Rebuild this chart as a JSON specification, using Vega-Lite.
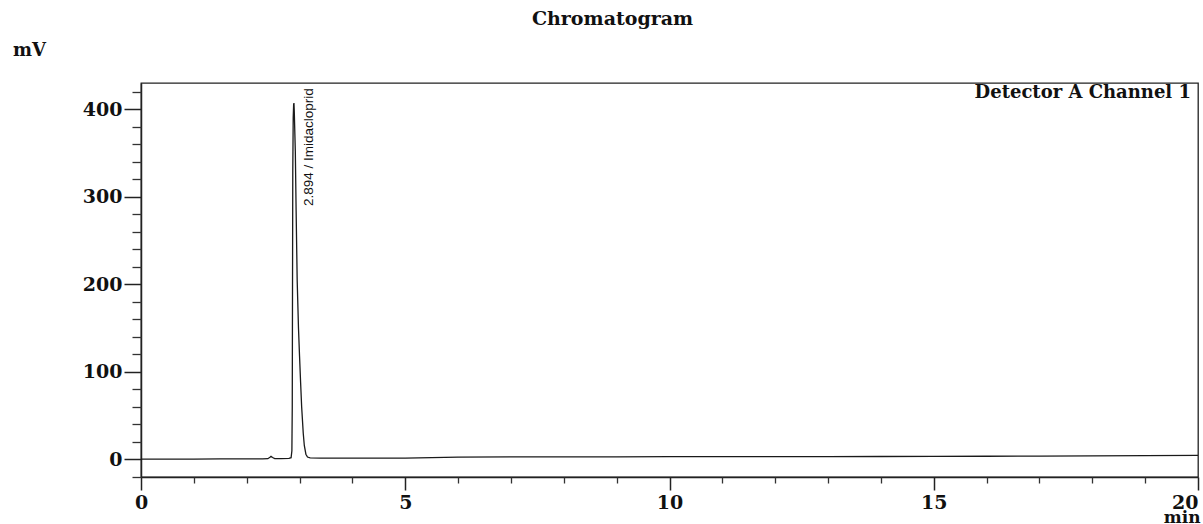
{
  "$schema": "https://vega.github.io/schema/vega-lite/v6.json",
  "width": 1057,
  "height": 394,
  "autosize": {"type": "none"},
  "padding": {"left": 141, "top": 83, "right": 5, "bottom": 47},
  "background": "white",
  "title": {
    "text": "Chromatogram",
    "font": "DejaVu Serif",
    "fontSize": 19,
    "fontWeight": "bold",
    "color": "#111111",
    "anchor": "middle",
    "dx": -57,
    "offset": 12
  },
  "datasets": {
    "trace": [
      {"t": 0, "mV": 0.5}, {"t": 0.5, "mV": 0.4}, {"t": 1, "mV": 0.5}, {"t": 1.5, "mV": 0.6},
      {"t": 2, "mV": 0.6}, {"t": 2.3, "mV": 0.7}, {"t": 2.4, "mV": 0.9}, {"t": 2.44, "mV": 2.5},
      {"t": 2.46, "mV": 3.5}, {"t": 2.49, "mV": 2.2}, {"t": 2.53, "mV": 1.0}, {"t": 2.65, "mV": 1.0},
      {"t": 2.8, "mV": 1.2}, {"t": 2.84, "mV": 2}, {"t": 2.855, "mV": 10}, {"t": 2.862, "mV": 60},
      {"t": 2.867, "mV": 200}, {"t": 2.872, "mV": 330}, {"t": 2.88, "mV": 390}, {"t": 2.888, "mV": 405},
      {"t": 2.894, "mV": 407}, {"t": 2.9, "mV": 398}, {"t": 2.92, "mV": 352}, {"t": 2.935, "mV": 285},
      {"t": 2.955, "mV": 205}, {"t": 2.98, "mV": 150}, {"t": 3.0, "mV": 118}, {"t": 3.02, "mV": 88},
      {"t": 3.04, "mV": 60}, {"t": 3.07, "mV": 30}, {"t": 3.09, "mV": 16}, {"t": 3.12, "mV": 6},
      {"t": 3.15, "mV": 2.8}, {"t": 3.2, "mV": 1.8}, {"t": 3.4, "mV": 1.5}, {"t": 4, "mV": 1.5},
      {"t": 5, "mV": 1.6}, {"t": 5.5, "mV": 2.2}, {"t": 6, "mV": 2.8}, {"t": 7, "mV": 3.0},
      {"t": 8, "mV": 2.9}, {"t": 9, "mV": 3.0}, {"t": 10, "mV": 3.2}, {"t": 11, "mV": 3.2},
      {"t": 12, "mV": 3.3}, {"t": 13, "mV": 3.3}, {"t": 14, "mV": 3.4}, {"t": 15, "mV": 3.5},
      {"t": 16, "mV": 3.7}, {"t": 17, "mV": 3.9}, {"t": 18, "mV": 4.2}, {"t": 19, "mV": 4.4},
      {"t": 20, "mV": 4.6}
    ]
  },
  "layer": [
    {
      "data": {"name": "trace"},
      "mark": {"type": "line", "color": "#1a1a1a", "strokeWidth": 1.3},
      "encoding": {
        "x": {
          "field": "t", "type": "quantitative",
          "scale": {"domain": [0, 20], "nice": false, "zero": false},
          "axis": {
            "orient": "bottom",
            "values": [0, 5, 10, 15, 20],
            "tickSize": 13,
            "tickWidth": 1.5,
            "tickColor": "#222222",
            "domainColor": "#222222",
            "domainWidth": 1.5,
            "labelPadding": 3,
            "labelFont": "DejaVu Serif",
            "labelFontSize": 19,
            "labelFontWeight": "bold",
            "labelColor": "#111111",
            "labelAlign": {"condition": {"test": "datum.value === 20", "value": "right"}, "value": "center"},
            "grid": false,
            "title": "min",
            "titleFont": "DejaVu Serif",
            "titleFontSize": 17,
            "titleFontWeight": "bold",
            "titleColor": "#111111",
            "titleX": 1059,
            "titleY": 45,
            "titleAlign": "right",
            "titleBaseline": "alphabetic"
          }
        },
        "y": {
          "field": "mV", "type": "quantitative",
          "scale": {"domain": [-20, 430], "nice": false, "zero": false},
          "axis": {
            "orient": "left",
            "values": [0, 100, 200, 300, 400],
            "tickSize": 17,
            "tickWidth": 1.5,
            "tickColor": "#222222",
            "domainColor": "#222222",
            "domainWidth": 1.5,
            "labelPadding": 2,
            "labelFont": "DejaVu Serif",
            "labelFontSize": 19,
            "labelFontWeight": "bold",
            "labelColor": "#111111",
            "grid": false,
            "title": "mV",
            "titleFont": "DejaVu Serif",
            "titleFontSize": 18,
            "titleFontWeight": "bold",
            "titleColor": "#111111",
            "titleAngle": 0,
            "titleX": -112,
            "titleY": -33,
            "titleAlign": "center",
            "titleBaseline": "middle"
          }
        }
      }
    },
    {
      "data": {"name": "trace"},
      "mark": {"type": "point", "opacity": 0},
      "encoding": {
        "x": {
          "field": "t", "type": "quantitative",
          "axis": {
            "orient": "bottom",
            "values": [1, 2, 3, 4, 6, 7, 8, 9, 11, 12, 13, 14, 16, 17, 18, 19],
            "tickSize": 6,
            "tickWidth": 1.3,
            "tickColor": "#333333",
            "labels": false,
            "domain": false,
            "grid": false,
            "title": null
          }
        },
        "y": {
          "field": "mV", "type": "quantitative",
          "axis": {
            "orient": "left",
            "values": [-20, 20, 40, 60, 80, 120, 140, 160, 180, 220, 240, 260, 280, 320, 340, 360, 380, 420],
            "tickSize": 9,
            "tickWidth": 1.3,
            "tickColor": "#333333",
            "labels": false,
            "domain": false,
            "grid": false,
            "title": null
          }
        }
      }
    },
    {
      "data": {"values": [{"t": 2.894, "mV": 407, "label": "2.894 / Imidacloprid"}]},
      "mark": {
        "type": "text", "angle": 270, "align": "right", "baseline": "middle",
        "dx": 15, "dy": 15, "font": "Liberation Sans", "fontSize": 13.5, "color": "#111111"
      },
      "encoding": {
        "x": {"field": "t", "type": "quantitative", "axis": null},
        "y": {"field": "mV", "type": "quantitative", "axis": null},
        "text": {"field": "label"}
      }
    },
    {
      "data": {"values": [{"label": "Detector A Channel 1"}]},
      "mark": {
        "type": "text", "align": "right", "baseline": "top",
        "dx": -7, "dy": 1, "font": "DejaVu Serif", "fontSize": 18, "fontWeight": "bold", "color": "#111111"
      },
      "encoding": {
        "x": {"datum": 20, "axis": null},
        "y": {"datum": 430, "axis": null},
        "text": {"field": "label"}
      }
    }
  ],
  "resolve": {"axis": {"x": "independent", "y": "independent"}},
  "config": {
    "view": {"stroke": "#222222", "strokeWidth": 1.3}
  }
}
